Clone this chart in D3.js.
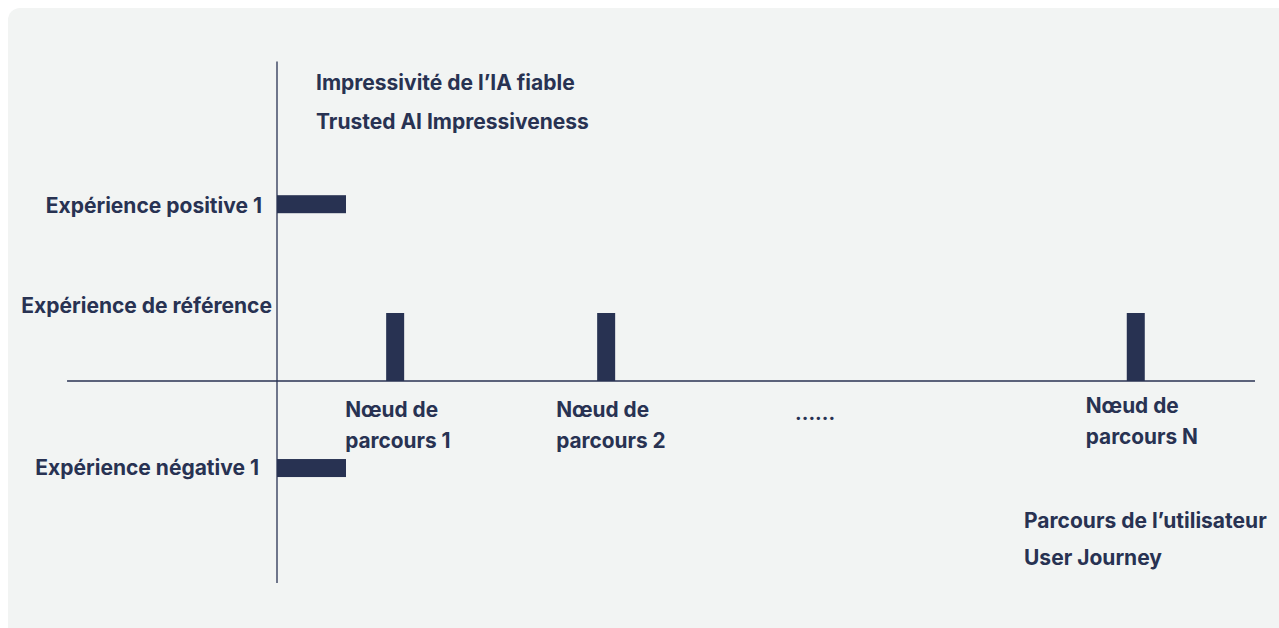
<!DOCTYPE html>
<html>
<head>
<meta charset="utf-8">
<script src="https://cdn.jsdelivr.net/npm/d3@7"></script>
<style>
  html, body { margin: 0; padding: 0; background: #ffffff; }
  svg { display: block; }
  text { font-family: Inter, "Noto Sans", sans-serif; font-weight: 700; fill: #283252; }
</style>
</head>
<body>
<svg id="chart" width="1279" height="628"></svg>
<script>
// ---- data ----
const experienceLabels = ["Expérience positive 1", "Expérience de référence", "Expérience négative 1"];
const experienceValues = [2.6, 1, -1.28];          // level on the impressiveness axis
const nodeLabels = [["Nœud de", "parcours 1"], ["Nœud de", "parcours 2"], ["Nœud de", "parcours N"]];
const nodePositions = [0.56, 1.56, 4.07];           // position along the user journey
const nodeValues = [1, 1, 1];                       // reference experience at each node
const ellipsisPosition = 2.46;
const yTitle = ["Impressivité de l’IA fiable", "Trusted AI Impressiveness"];
const xTitle = ["Parcours de l’utilisateur", "User Journey"];

// ---- layout ----
const W = 1279, H = 628;
const color = "#283252";
const svg = d3.select("#chart");

svg.append("rect")
  .attr("x", 8).attr("y", 8)
  .attr("width", W + 20).attr("height", H - 8 + 12)
  .attr("rx", 12).attr("ry", 12)
  .attr("fill", "#f2f4f3");

const originX = 277, unitX = 211;
const x = d3.scaleLinear().domain([0, 1]).range([originX, originX + unitX]);
const y = d3.scaleLinear().domain([0, 1]).range([381, 313]);

// axes
svg.append("line")
  .attr("x1", x(-0.995)).attr("x2", x(4.635))
  .attr("y1", y(0)).attr("y2", y(0))
  .attr("stroke", color).attr("stroke-width", 1.3);
svg.append("line")
  .attr("x1", x(0)).attr("x2", x(0))
  .attr("y1", y(4.7)).attr("y2", y(-2.97))
  .attr("stroke", color).attr("stroke-width", 1.3);

// vertical bars (journey nodes)
const barW = 18;
svg.selectAll("rect.node").data(nodePositions).join("rect")
  .attr("class", "node")
  .attr("x", d => x(d) - barW / 2)
  .attr("width", barW)
  .attr("y", (d, i) => y(nodeValues[i]))
  .attr("height", (d, i) => y(0) - y(nodeValues[i]))
  .attr("fill", color);

// horizontal bars (positive / negative experiences)
const hBarLen = 0.327, hBarH = 18;
const extremes = experienceValues.map((v, i) => ({ v, i })).filter(d => d.v !== 1);
svg.selectAll("rect.exp").data(extremes).join("rect")
  .attr("class", "exp")
  .attr("x", x(0))
  .attr("width", x(hBarLen) - x(0))
  .attr("y", d => y(d.v) - hBarH / 2)
  .attr("height", hBarH)
  .attr("fill", color);

// experience labels (y axis)
const yLabelOffset = [15, 5, 18];
const yLabelDy = [1, -7, 0];
svg.selectAll("text.ylab").data(experienceLabels).join("text")
  .attr("class", "ylab")
  .attr("x", (d, i) => x(0) - yLabelOffset[i])
  .attr("y", (d, i) => y(experienceValues[i]) + yLabelDy[i])
  .attr("dy", "0.35em")
  .attr("text-anchor", "end")
  .attr("font-size", 21)
  .text(d => d);

// node labels
nodeLabels.forEach((lines, i) => {
  const dyTop = i === 2 ? 25 : 29;
  lines.forEach((t, j) => {
    svg.append("text")
      .attr("x", x(nodePositions[i]) - 50)
      .attr("y", y(0) + dyTop + j * 31)
      .attr("dy", "0.35em")
      .attr("font-size", 20.8)
      .text(t);
  });
});

svg.append("text")
  .attr("x", x(ellipsisPosition) - 1)
  .attr("y", y(0) + 32)
  .attr("dy", "0.35em")
  .attr("font-size", 20)
  .text("......");

// axis titles
yTitle.forEach((t, j) => {
  svg.append("text")
    .attr("x", x(0) + 39)
    .attr("y", 83 + j * 39)
    .attr("dy", "0.35em")
    .attr("font-size", 21)
    .text(t);
});
xTitle.forEach((t, j) => {
  svg.append("text")
    .attr("x", 1024)
    .attr("y", 521 + j * 37)
    .attr("dy", "0.35em")
    .attr("font-size", 21)
    .text(t);
});
</script>
</body>
</html>
